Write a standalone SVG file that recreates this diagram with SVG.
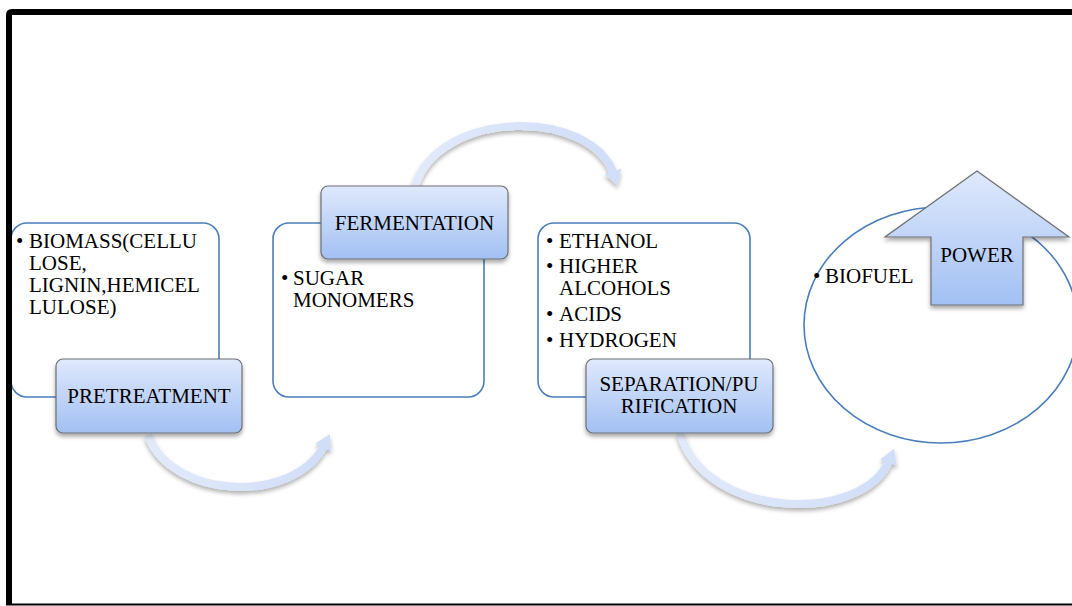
<svg xmlns="http://www.w3.org/2000/svg" width="1072" height="606" viewBox="0 0 1072 606">
<style>
.txt{font-family:'Liberation Serif',Tinos,'Times New Roman',Times,'DejaVu Serif',serif;font-size:21px;fill:#000}
.mid{text-anchor:middle}
.list{fill:#fff;stroke:#4a7ebb;stroke-width:1.6}
.hdr{stroke:#6e7074;stroke-width:1.2;filter:url(#sh)}
.conn{fill:none;stroke-width:8;filter:url(#sh2)}
</style>
<defs>
<linearGradient id="g" x1="0" y1="0" x2="0" y2="1">
<stop offset="0" stop-color="#dfe9fc"/>
<stop offset="1" stop-color="#a2c0f3"/>
</linearGradient>
<linearGradient id="cg" x1="0" y1="0" x2="1" y2="0">
<stop offset="0" stop-color="#e2eafa"/>
<stop offset="1" stop-color="#d1def8"/>
</linearGradient>
<filter id="sh" x="-20%" y="-20%" width="140%" height="150%">
<feDropShadow dx="0" dy="3" stdDeviation="2" flood-color="#000" flood-opacity="0.35"/>
</filter>
<filter id="sh2" x="-20%" y="-20%" width="140%" height="150%">
<feDropShadow dx="0" dy="3" stdDeviation="2" flood-color="#000" flood-opacity="0.3"/>
</filter>
<marker id="ah" markerUnits="userSpaceOnUse" markerWidth="24" markerHeight="24" refX="4" refY="12" orient="auto">
<path d="M0,3 L15,12 L0,21 Z" fill="#d1def8"/>
</marker>
</defs>
<rect width="1072" height="606" fill="#fff"/>

<g id="connectors">
<path class="conn" stroke="url(#cg)" d="M148,435 C172,500 295,505 325,444" marker-end="url(#ah)"/>
<path class="conn" stroke="url(#cg)" d="M415,186 C440,108 592,108 614,175" marker-end="url(#ah)"/>
<path class="conn" stroke="url(#cg)" d="M680,433 C705,520 864,525 890,459" marker-end="url(#ah)"/>
</g>

<g id="biomass-list" font-family="Liberation Serif, serif">
<rect class="list" x="11" y="223" width="208" height="174" rx="16"/>
<text class="txt" x="16" y="248">•</text>
<text class="txt" x="29" y="248">BIOMASS(CELLU</text>
<text class="txt" x="29" y="270">LOSE,</text>
<text class="txt" x="29" y="292">LIGNIN,HEMICEL</text>
<text class="txt" x="29" y="314">LULOSE)</text>
</g>
<g id="pretreatment">
<rect class="hdr" fill="url(#g)" x="56" y="359" width="186" height="74" rx="7"/>
<text class="txt mid" x="149" y="403">PRETREATMENT</text>
</g>

<g id="sugar-list">
<rect class="list" x="273" y="223" width="211" height="174" rx="16"/>
<text class="txt" x="281" y="285">•</text>
<text class="txt" x="293" y="285">SUGAR</text>
<text class="txt" x="293" y="307">MONOMERS</text>
</g>
<g id="fermentation">
<rect class="hdr" fill="url(#g)" x="321" y="186" width="187" height="73" rx="7"/>
<text class="txt mid" x="414.5" y="230">FERMENTATION</text>
</g>

<g id="products-list">
<rect class="list" x="538" y="223" width="212" height="174" rx="16"/>
<text class="txt" x="546" y="248">•</text>
<text class="txt" x="559" y="248">ETHANOL</text>
<text class="txt" x="546" y="273">•</text>
<text class="txt" x="559" y="273">HIGHER</text>
<text class="txt" x="559" y="295">ALCOHOLS</text>
<text class="txt" x="546" y="321">•</text>
<text class="txt" x="559" y="321">ACIDS</text>
<text class="txt" x="546" y="347">•</text>
<text class="txt" x="559" y="347">HYDROGEN</text>
</g>
<g id="separation">
<rect class="hdr" fill="url(#g)" x="586" y="359" width="187" height="74" rx="7"/>
<text class="txt mid" x="679" y="391">SEPARATION/PU</text>
<text class="txt mid" x="679" y="413">RIFICATION</text>
</g>

<g id="biofuel">
<ellipse cx="941" cy="325" rx="137" ry="118" fill="none" stroke="#4a7ebb" stroke-width="1.6"/>
<text class="txt" x="813" y="283">•</text>
<text class="txt" x="825" y="283">BIOFUEL</text>
</g>
<g id="power">
<polygon class="hdr" fill="url(#g)" points="977,171 1069,237 1023,237 1023,305 931,305 931,237 885,237"/>
<text class="txt mid" x="977" y="262">POWER</text>
</g>

<g id="frame">
<path d="M9,605 L9,15 Q9,12 12,12 L1072,12" fill="none" stroke="#000" stroke-width="6"/>
<rect x="6" y="603.5" width="1066" height="2" fill="#000"/>
</g>
</svg>
